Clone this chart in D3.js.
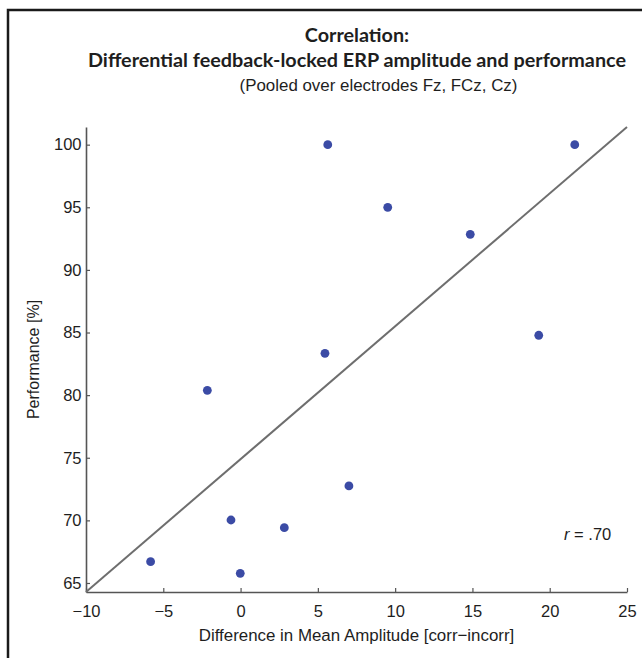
<!DOCTYPE html>
<html>
<head>
<meta charset="utf-8">
<script src="https://cdn.jsdelivr.net/npm/d3@7"></script>
<style>
  body { margin: 0; background: #fff; }
  text { font-family: 'Liberation Sans', Arial, sans-serif; fill: #1e1e1e; }
</style>
</head>
<body>
<div class="chart"></div>
<script>
// values
const amplitudeDiff = [5.64, 21.62, 9.52, 14.86, 19.29, 5.46, -2.15, 7.01, -0.62, 2.83, -0.02, -5.82]
const performanceScores = [100, 100, 95, 92.84, 84.78, 83.34, 80.38, 72.75, 70.03, 69.42, 65.77, 66.7]
const xTicks = [-10, -5, 0, 5, 10, 15, 20, 25]
const yTicks = [65, 70, 75, 80, 85, 90, 95, 100]
const xLimits = [-10, 25]
const titleLines = ['Correlation:', 'Differential feedback-locked ERP amplitude and performance']
const subtitle = '(Pooled over electrodes Fz, FCz, Cz)'
const xLabel = 'Difference in Mean Amplitude [corr\u2212incorr]'
const yLabel = 'Performance [%]'
const rValue = '.70'

const width = 642
const height = 658
const plotLeft = 86
const plotRight = 627
const plotTop = 127
const plotBottom = 592

const points = amplitudeDiff.map((a, i) => ({ x: a, y: performanceScores[i] }))

// least squares line, the y limits follow the fitted line at the x limits
const mx = d3.mean(points, (d) => d.x)
const my = d3.mean(points, (d) => d.y)
const slope =
  d3.sum(points, (d) => (d.x - mx) * (d.y - my)) /
  d3.sum(points, (d) => (d.x - mx) ** 2)
const fit = (v) => my + slope * (v - mx)

const x = d3.scaleLinear().domain(xLimits).range([plotLeft, plotRight])
const y = d3
  .scaleLinear()
  .domain([fit(xLimits[0]), fit(xLimits[1])])
  .range([plotBottom, plotTop])

const svg = d3
  .select('.chart')
  .append('svg')
  .attr('width', width)
  .attr('height', height)

// frame of the figure panel
svg
  .append('path')
  .attr('d', `M8,${height + 5}V10H${width + 5}`)
  .attr('fill', 'none')
  .attr('stroke', '#1a1a1a')
  .attr('stroke-width', 2.5)

const title = svg.append('g').attr('text-anchor', 'middle')
title
  .selectAll('text.title')
  .data(titleLines)
  .enter()
  .append('text')
  .attr('class', 'title')
  .attr('x', 357)
  .attr('y', (d, i) => 41.5 + i * 25)
  .style('font-family', 'Lato, sans-serif')
  .style('font-weight', 'bold')
  .style('font-size', '19.8px')
  .text((d) => d)
title
  .append('text')
  .attr('x', 378.5)
  .attr('y', 91)
  .style('font-size', '16.9px')
  .text(subtitle)

const xAxis = svg
  .append('g')
  .attr('transform', `translate(0,${plotBottom})`)
  .call(
    d3
      .axisBottom(x)
      .tickValues(xTicks)
      .tickSizeInner(-4)
      .tickSizeOuter(0)
      .tickPadding(13)
      .tickFormat((d) => String(d).replace('-', '\u2212'))
  )
const yAxis = svg
  .append('g')
  .attr('transform', `translate(${plotLeft},0)`)
  .call(d3.axisLeft(y).tickValues(yTicks).tickSizeInner(-4).tickSizeOuter(0).tickPadding(4.5))

;[xAxis, yAxis].forEach((g) => {
  g.select('.domain').attr('stroke', '#555').attr('stroke-width', 1.6)
  g.selectAll('.tick line').attr('stroke', '#555').attr('stroke-width', 1.2)
  g.selectAll('.tick text')
    .attr('fill', '#1e1e1e')
    .style('font-family', "'Liberation Sans', Arial, sans-serif")
    .style('font-size', '16.5px')
})

svg
  .append('text')
  .attr('x', (plotLeft + plotRight) / 2)
  .attr('y', 641)
  .attr('text-anchor', 'middle')
  .style('font-size', '16.9px')
  .text(xLabel)

svg
  .append('text')
  .attr('transform', `translate(39,${(plotTop + plotBottom) / 2}) rotate(-90)`)
  .attr('text-anchor', 'middle')
  .style('font-size', '16px')
  .text(yLabel)

svg
  .append('line')
  .attr('x1', x(xLimits[0]))
  .attr('y1', y(fit(xLimits[0])))
  .attr('x2', x(xLimits[1]))
  .attr('y2', y(fit(xLimits[1])))
  .attr('stroke', '#6e6e6e')
  .attr('stroke-width', 2)

svg
  .selectAll('circle')
  .data(points)
  .enter()
  .append('circle')
  .attr('cx', (d) => x(d.x))
  .attr('cy', (d) => y(d.y))
  .attr('r', 4.4)
  .attr('fill', '#3b4ba5')

const rText = svg
  .append('text')
  .attr('x', 564)
  .attr('y', 539.5)
  .style('font-size', '16.5px')
rText.append('tspan').style('font-style', 'italic').text('r')
rText.append('tspan').text(` = ${rValue}`)
</script>
</body>
</html>
